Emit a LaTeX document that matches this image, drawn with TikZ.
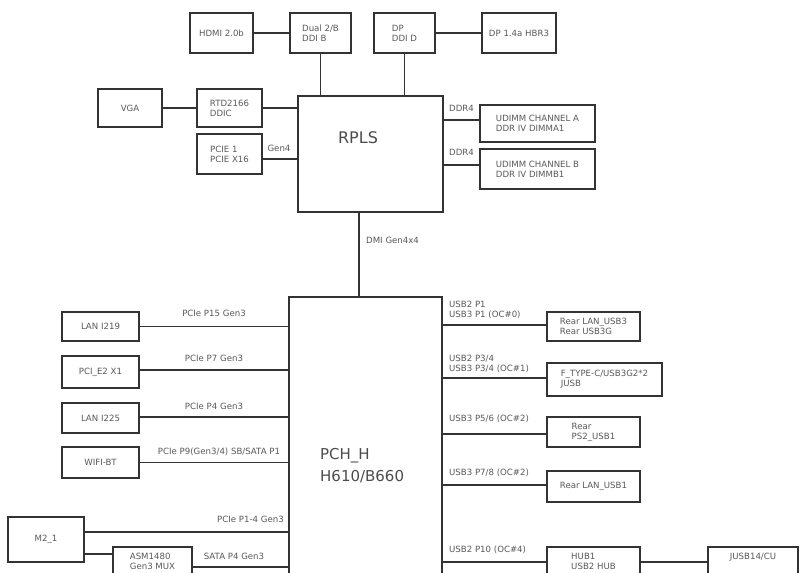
\documentclass[tikz,border=0pt]{standalone}
\usepackage{fontspec}
\setmainfont{DejaVu Sans}
\begin{document}
\tikzset{
 bx/.style={draw=black!80,line width=1.7pt,inner sep=0pt,align=left,font=\fontsize{8.6}{10}\selectfont,text=black!65},
 lbl/.style={inner sep=0pt,align=left,font=\fontsize{8.6}{10}\selectfont,text=black!65},
 wire/.style={draw=black!80,line width=1.7pt},
 big/.style={inner sep=0pt,align=left,font=\fontsize{15}{22}\selectfont,text=black!70}
}
\begin{tikzpicture}[x=1pt,y=-1pt]
\useasboundingbox[fill=white] (0,0) rectangle (804,573);
% top row
\node[bx,minimum width=63,minimum height=40] (hdmi) at (221.5,33) {HDMI 2.0b};
\node[bx,minimum width=61,minimum height=40] (dual) at (320.5,33) {Dual 2/B\\DDI B};
\node[bx,minimum width=61,minimum height=40] (dp) at (404.5,33) {DP\\DDI D};
\node[bx,minimum width=74,minimum height=40] (dphbr) at (519,33) {DP 1.4a HBR3};
% left of CPU
\node[bx,minimum width=64,minimum height=38] (vga) at (130,108) {VGA};
\node[bx,minimum width=65,minimum height=38] (rtd) at (229.5,108) {RTD2166\\DDIC};
\node[bx,minimum width=65,minimum height=40] (pcie1) at (229.5,154) {PCIE 1\\PCIE X16};
% CPU
\node[bx,minimum width=145,minimum height=116] (rpls) at (370.5,154) {};
\node[big,font=\fontsize{16}{20}\selectfont] (rplsT) at (358,138) {RPLS};
% DDR
\node[bx,minimum width=115,minimum height=37] (ddrA) at (537.5,123.5) {UDIMM CHANNEL A\\DDR IV DIMMA1};
\node[bx,minimum width=115,minimum height=40] (ddrB) at (537.5,169) {UDIMM CHANNEL B\\DDR IV DIMMB1};
% PCH
\node[bx,minimum width=153,minimum height=338] (pch) at (365.5,466) {};
\node[big,anchor=west] (pchT) at (320,466) {PCH\_H\\H610/B660};
% left devices
\node[bx,minimum width=77,minimum height=29] (lanA) at (100.5,326.5) {LAN I219};
\node[bx,minimum width=77,minimum height=32] (pcie2) at (100.5,372) {PCI\_E2 X1};
\node[bx,minimum width=77,minimum height=30] (lanB) at (100.5,418) {LAN I225};
\node[bx,minimum width=77,minimum height=31] (wifi) at (100.5,462.5) {WIFI-BT};
\node[bx,minimum width=76,minimum height=45] (m2) at (46,539.5) {M2\_1};
\node[bx,minimum width=79,minimum height=28] (asm) at (152.5,561) {ASM1480\\Gen3 MUX};
% right devices
\node[bx,minimum width=93,minimum height=29] (rA) at (593.5,326.5) {Rear LAN\_USB3\\Rear USB3G};
\node[bx,minimum width=115,minimum height=33] (rB) at (604.5,379.5) {F\_TYPE-C/USB3G2*2\\JUSB};
\node[bx,minimum width=93,minimum height=30] (rC) at (593.5,432) {Rear\\PS2\_USB1};
\node[bx,minimum width=93,minimum height=31] (rD) at (593.5,486.5) {Rear LAN\_USB1};
\node[bx,minimum width=93,minimum height=28] (hub) at (593.5,561) {HUB1\\USB2 HUB};
\node[bx,minimum width=90,minimum height=28] (jusb) at (753,561) {JUSB14/CU\\~};
% connectors top
\draw[wire] (hdmi.east) -- (dual.west);
\draw[wire] (dp.east) -- (dphbr.west);
\draw[wire] (dual.south) -- (dual.south |- rpls.north);
\draw[wire] (dp.south) -- (dp.south |- rpls.north);
\draw[wire] (vga.east) -- (rtd.west);
\draw[wire] (rtd.east) -- (rtd.east -| rpls.west);
\draw[wire] ([yshift=-5pt]pcie1.east) -- ([yshift=-5pt]pcie1.east -| rpls.west);
\draw[wire] ([yshift=3.5pt]ddrA.west) -- ([yshift=3.5pt]ddrA.west -| rpls.east);
\draw[wire] ([yshift=4pt]ddrB.west) -- ([yshift=4pt]ddrB.west -| rpls.east);
\draw[wire] (359,0 |- rpls.south) -- (359,0 |- pch.north);
% connectors left
\draw[wire] (lanA.east) -- (lanA.east -| pch.west);
\draw[wire] ([yshift=2pt]pcie2.east) -- ([yshift=2pt]pcie2.east -| pch.west);
\draw[wire] ([yshift=1pt]lanB.east) -- ([yshift=1pt]lanB.east -| pch.west);
\draw[wire] (wifi.east) -- (wifi.east -| pch.west);
\draw[wire] ([yshift=7.5pt]m2.east) -- ([yshift=7.5pt]m2.east -| pch.west);
\draw[wire] ([yshift=-14.5pt]m2.east) -- ([yshift=-14.5pt]m2.east -| asm.west);
\draw[wire] ([yshift=-6pt]asm.east) -- ([yshift=-6pt]asm.east -| pch.west);
% connectors right
\draw[wire] ([yshift=1.5pt]rA.west) -- ([yshift=1.5pt]rA.west -| pch.east);
\draw[wire] ([yshift=1.5pt]rB.west) -- ([yshift=1.5pt]rB.west -| pch.east);
\draw[wire] ([yshift=-2pt]rC.west) -- ([yshift=-2pt]rC.west -| pch.east);
\draw[wire] ([yshift=1.5pt]rD.west) -- ([yshift=1.5pt]rD.west -| pch.east);
\draw[wire] ([yshift=-1pt]hub.west) -- ([yshift=-1pt]hub.west -| pch.east);
\draw[wire] ([yshift=-1pt]hub.east) -- ([yshift=-1pt]hub.east -| jusb.west);
% labels
\node[lbl] (lGen) at (279,148) {Gen4};
\node[lbl,anchor=west] (lDdrA) at (449,108) {DDR4};
\node[lbl,anchor=west] (lDdrB) at (449,152) {DDR4};
\node[lbl,anchor=west] (lDmi) at (366,240) {DMI Gen4x4};
\node[lbl] (l1) at (214,313) {PCIe P15 Gen3};
\node[lbl] (l2) at (214,358) {PCIe P7 Gen3};
\node[lbl] (l3) at (214,406) {PCIe P4 Gen3};
\node[lbl] (l4) at (219,452) {PCIe P9(Gen3/4) SB/SATA P1};
\node[lbl,anchor=east] (l5) at (284,519) {PCIe P1-4 Gen3};
\node[lbl] (l6) at (234,556) {SATA P4 Gen3};
\node[lbl,anchor=west] (r1) at (449,310) {USB2 P1\\USB3 P1 (OC\#0)};
\node[lbl,anchor=west] (r2) at (449,364) {USB2 P3/4\\USB3 P3/4 (OC\#1)};
\node[lbl,anchor=west] (r3) at (449,419) {USB3 P5/6 (OC\#2)};
\node[lbl,anchor=west] (r4) at (449,473) {USB3 P7/8 (OC\#2)};
\node[lbl,anchor=west] (r5) at (449,550) {USB2 P10 (OC\#4)};
\end{tikzpicture}
\end{document}
